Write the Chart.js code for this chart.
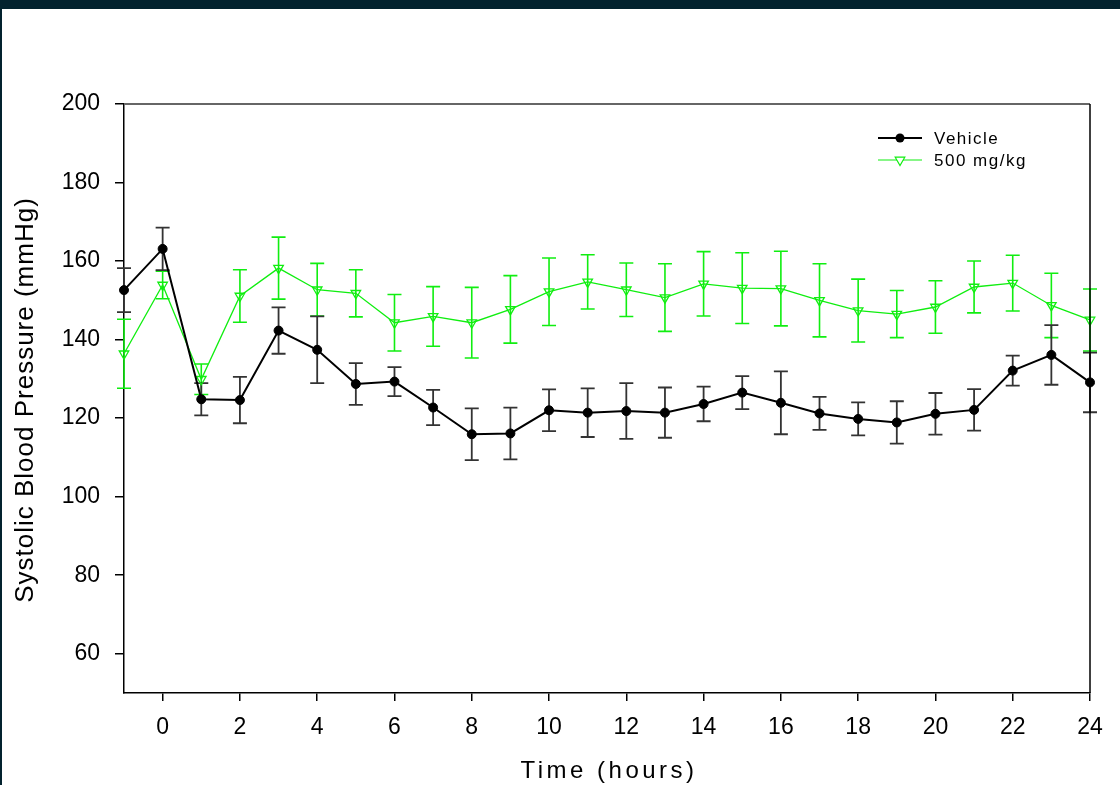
<!DOCTYPE html>
<html>
<head>
<meta charset="utf-8">
<script src="https://cdn.jsdelivr.net/npm/chart.js@4/dist/chart.umd.min.js"></script>
<style>
  html, body { margin: 0; padding: 0; background: #fff; }
  canvas { display: block; }
</style>
</head>
<body>
<canvas id="bpChart" width="1120" height="785"></canvas>
<script>
// Data
const hours = [-1, 0, 1, 2, 3, 4, 5, 6, 7, 8, 9, 10, 11, 12, 13, 14, 15, 16, 17, 18, 19, 20, 21, 22, 23, 24];
const vehicle = [152.6, 163.1, 124.8, 124.6, 142.3, 137.4, 128.7, 129.3, 122.7, 115.9, 116.1, 122.0, 121.4,
                 121.8, 121.4, 123.6, 126.5, 123.9, 121.2, 119.8, 118.9, 121.1, 122.1, 132.1, 136.1, 129.1];
const vehicleSem = [5.6, 5.4, 4.1, 5.9, 5.9, 8.5, 5.3, 3.7, 4.5, 6.6, 6.6, 5.3, 6.2,
                    7.1, 6.4, 4.4, 4.2, 8.0, 4.2, 4.2, 5.4, 5.3, 5.3, 3.8, 7.6, 7.6];
const dose500 = [136.4, 153.9, 129.9, 151.1, 158.2, 152.7, 151.8, 144.3, 145.9, 144.3, 147.7, 152.2, 154.7,
                 152.7, 150.7, 154.2, 153.1, 153.0, 150.0, 147.4, 146.5, 148.3, 153.4, 154.4, 148.7, 145.0];
const dose500Sem = [8.8, 3.5, 3.9, 6.7, 7.9, 6.7, 6.0, 7.2, 7.6, 9.0, 8.6, 8.6, 6.9,
                    6.8, 8.6, 8.2, 9.0, 9.5, 9.3, 8.0, 6.0, 6.7, 6.6, 7.1, 8.2, 7.9];
const seriesNames = ['Vehicle', '500 mg/kg'];
const xTicks = [0, 2, 4, 6, 8, 10, 12, 14, 16, 18, 20, 22, 24];
const yTicks = [60, 80, 100, 120, 140, 160, 180, 200];

const GREEN = '#10ee10';
const toPoints = (ys) => hours.map((h, i) => ({ x: h, y: ys[i] }));

// frame, box, error bars, legend and axis titles
const decor = {
    id: 'decor',
    beforeDraw(chart) {
        const ctx = chart.ctx;
        ctx.save();
        ctx.fillStyle = '#03222e';
        ctx.fillRect(0, 0, chart.width, chart.height);
        ctx.fillStyle = '#ffffff';
        ctx.fillRect(2, 9, chart.width - 2, chart.height - 9);
        ctx.restore();
    },
    beforeDatasetsDraw(chart) {
        const ctx = chart.ctx;
        const xs = chart.scales.x, ys = chart.scales.y;
        const bars = [[dose500, dose500Sem, GREEN, 1.6], [vehicle, vehicleSem, '#333333', 1.8]];
        ctx.save();
        bars.forEach(([vals, sem, color, w]) => {
            ctx.strokeStyle = color;
            ctx.lineWidth = w;
            vals.forEach((v, i) => {
                const px = xs.getPixelForValue(hours[i]);
                const top = ys.getPixelForValue(v + sem[i]);
                const bot = ys.getPixelForValue(v - sem[i]);
                ctx.beginPath();
                ctx.moveTo(px, top); ctx.lineTo(px, bot);
                ctx.moveTo(px - 7, top); ctx.lineTo(px + 7, top);
                ctx.moveTo(px - 7, bot); ctx.lineTo(px + 7, bot);
                ctx.stroke();
            });
        });
        ctx.restore();
    },
    afterDraw(chart) {
        const ctx = chart.ctx;
        const a = chart.chartArea;
        ctx.save();
        // top and right of the box
        ctx.strokeStyle = '#666666';
        ctx.lineWidth = 2;
        ctx.beginPath();
        ctx.moveTo(a.left, a.top); ctx.lineTo(a.right, a.top);
        ctx.stroke();
        ctx.strokeStyle = '#000000';
        ctx.lineWidth = 1.5;
        ctx.beginPath();
        ctx.moveTo(a.right, a.top); ctx.lineTo(a.right, a.bottom);
        ctx.stroke();

        // legend
        ctx.font = '17px "Liberation Sans", Arial, sans-serif';
        ctx.letterSpacing = '1.5px';
        ctx.textBaseline = 'middle';
        ctx.fillStyle = '#000';
        const rows = [138, 160];
        rows.forEach((y, i) => {
            ctx.strokeStyle = i === 0 ? '#000' : GREEN;
            ctx.lineWidth = i === 0 ? 2 : 1.2;
            ctx.beginPath();
            ctx.moveTo(878, y); ctx.lineTo(922, y);
            ctx.stroke();
            if (i === 0) {
                ctx.fillStyle = '#000';
                ctx.beginPath();
                ctx.arc(900, y, 4.5, 0, Math.PI * 2);
                ctx.fill();
            } else {
                ctx.fillStyle = '#fff';
                ctx.beginPath();
                ctx.moveTo(900 - 4.8, y - 2.8);
                ctx.lineTo(900 + 4.8, y - 2.8);
                ctx.lineTo(900, y + 5.5);
                ctx.closePath();
                ctx.fill();
                ctx.stroke();
            }
            ctx.fillStyle = '#000';
            ctx.fillText(seriesNames[i], 934, y + 1);
        });

        // axis titles
        ctx.textAlign = 'center';
        ctx.font = '24px "Liberation Sans", Arial, sans-serif';
        ctx.letterSpacing = '3.5px';
        ctx.fillText('Time (hours)', (a.left + a.right) / 2 + 2, 771);
        ctx.translate(26, 400);
        ctx.rotate(-Math.PI / 2);
        ctx.font = '26px "Liberation Sans", Arial, sans-serif';
        ctx.letterSpacing = '1px';
        ctx.fillText('Systolic Blood Pressure (mmHg)', 0, 0);
        ctx.restore();
    }
};

new Chart(document.getElementById('bpChart'), {
    type: 'line',
    data: {
        datasets: [
            {
                label: seriesNames[0],
                data: toPoints(vehicle),
                borderColor: '#000',
                borderWidth: 2,
                pointStyle: 'circle',
                pointRadius: 4.5,
                pointBackgroundColor: '#000',
                pointBorderColor: '#000',
                pointBorderWidth: 1,
                tension: 0,
                clip: false
            },
            {
                label: seriesNames[1],
                data: toPoints(dose500),
                borderColor: GREEN,
                borderWidth: 1.3,
                pointStyle: 'triangle',
                pointRotation: 180,
                pointRadius: 5.5,
                pointBackgroundColor: 'rgba(255,255,255,0)',
                pointBorderColor: GREEN,
                pointBorderWidth: 1.3,
                tension: 0,
                clip: false
            }
        ]
    },
    options: {
        responsive: false,
        animation: false,
        events: [],
        layout: { padding: { left: 0, top: 104, right: 30, bottom: 0 } },
        plugins: { legend: { display: false }, tooltip: { enabled: false } },
        scales: {
            x: {
                type: 'linear',
                min: -1,
                max: 24,
                afterBuildTicks: (s) => { s.ticks = xTicks.map(v => ({ value: v })); },
                afterFit: (s) => { s.height = 92; },
                border: { display: true, color: '#000', width: 1.5 },
                grid: { drawOnChartArea: false, drawTicks: true, tickLength: 8, tickColor: '#000', lineWidth: 1.5 },
                ticks: {
                    color: '#000',
                    padding: 13,
                    maxRotation: 0,
                    autoSkip: false,
                    font: { family: '"Liberation Sans", Arial, sans-serif', size: 23 }
                }
            },
            y: {
                type: 'linear',
                min: 50,
                max: 200,
                afterBuildTicks: (s) => { s.ticks = yTicks.map(v => ({ value: v })); },
                afterFit: (s) => { s.width = 124; },
                border: { display: true, color: '#000', width: 1.5 },
                grid: { drawOnChartArea: false, drawTicks: true, tickLength: 9, tickColor: '#000', lineWidth: 1.5 },
                ticks: {
                    color: '#000',
                    padding: 15,
                    autoSkip: false,
                    font: { family: '"Liberation Sans", Arial, sans-serif', size: 23 }
                }
            }
        }
    },
    plugins: [decor]
});
</script>
</body>
</html>
